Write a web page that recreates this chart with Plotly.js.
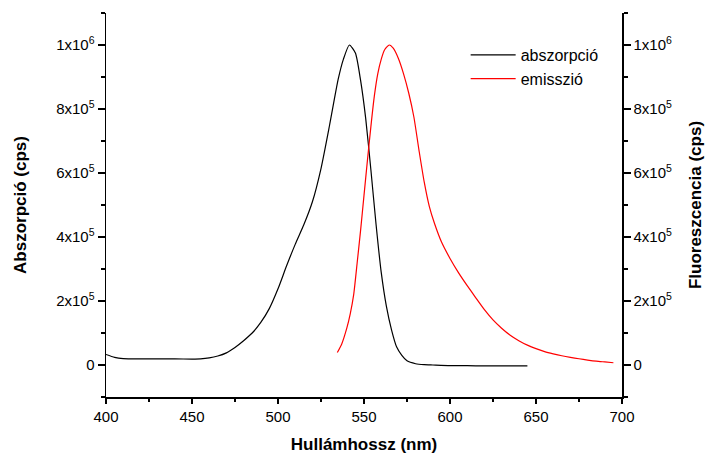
<!DOCTYPE html>
<html>
<head>
<meta charset="utf-8">
<script src="https://cdn.plot.ly/plotly-3.0.1.min.js"></script>
<style>
  html, body { margin: 0; padding: 0; background: #fff; }
  #chart { width: 708px; height: 457px; }
</style>
</head>
<body>
<div id="chart"></div>
<script>
// Absorption spectrum (wavelength in nm, intensity in cps)
const absWavelength = [400, 405, 410, 420, 430, 440, 450, 455, 460, 465, 470, 475, 480, 485, 490, 495,
  500, 505, 510, 515, 520, 525, 530, 535, 538, 541.5, 545, 548, 551, 554, 557, 560, 563, 566, 569,
  572, 575, 580, 585, 590, 600, 610, 620, 630, 645];
const absIntensity = [33000, 24000, 20000, 19000, 19000, 19000, 18500, 19000, 22000, 28000, 38000, 55000,
  76000, 100000, 133000, 177000, 238000, 310000, 377000, 438000, 510000, 614000, 750000, 893000,
  955000, 1000000, 975000, 890000, 770000, 610000, 440000, 290000, 184000, 110000, 56000,
  30000, 13000, 4000, 1000, 0, -2000, -2000, -3000, -3000, -3000];

// Emission spectrum (wavelength in nm, intensity in cps)
const emWavelength = [534.5, 537, 540, 542, 544, 546, 548, 550, 552, 554, 556, 558, 560, 562, 564.7,
  567, 570, 573, 576, 579, 582, 585, 588, 591, 595, 600, 605, 610, 615, 620, 625, 630, 635, 640,
  645, 650, 655, 660, 665, 670, 675, 680, 685, 690, 695];
const emIntensity = [39000, 65000, 115000, 160000, 220000, 318000, 420000, 530000, 640000, 745000,
  840000, 910000, 955000, 985000, 1000000, 990000, 958000, 910000, 850000, 775000, 670000, 572000,
  495000, 442000, 385000, 333000, 288000, 248000, 210000, 173000, 141000, 115000, 93000, 76000,
  62000, 51000, 42000, 35000, 29000, 24000, 19500, 15500, 12000, 9500, 7000];

const seriesNames = ['abszorpció', 'emisszió'];

// Axis tick labels
const yTickVals = [0, 200000, 400000, 600000, 800000, 1000000];
const yTickText = ['0', '2x10<sup>5</sup>', '4x10<sup>5</sup>', '6x10<sup>5</sup>', '8x10<sup>5</sup>', '1x10<sup>6</sup>'];
const yMinorVals = [-100000, 100000, 300000, 500000, 700000, 900000, 1100000];

const FONT = 'Liberation Sans, Arial, sans-serif';

const traces = [
  {
    x: absWavelength, y: absIntensity, name: seriesNames[0],
    type: 'scatter', mode: 'lines',
    line: { color: '#000000', width: 1.2, shape: 'spline', smoothing: 0.6 },
    yaxis: 'y'
  },
  {
    x: emWavelength, y: emIntensity, name: seriesNames[1],
    type: 'scatter', mode: 'lines',
    line: { color: '#ff0000', width: 1.2, shape: 'spline', smoothing: 0.6 },
    yaxis: 'y2'
  }
];

const yCommon = {
  range: [-100000, 1100000],
  tickmode: 'array', tickvals: yTickVals, ticktext: yTickText,
  ticks: 'outside', ticklen: 7, tickwidth: 1.5, tickcolor: '#000',
  minor: { tickmode: 'array', tickvals: yMinorVals, ticks: 'outside', ticklen: 4, tickwidth: 1.5, tickcolor: '#000' },
  showline: true, linecolor: '#000', linewidth: 1.5,
  showgrid: false, zeroline: false,
  tickfont: { family: FONT, size: 15, color: '#000' }
};

const layout = {
  width: 708, height: 457,
  margin: { l: 106, r: 86, t: 13, b: 60 },
  paper_bgcolor: '#fff', plot_bgcolor: '#fff',
  showlegend: true,
  legend: {
    x: 0.697, y: 0.935, xanchor: 'left', yanchor: 'top',
    itemwidth: 45,
    bgcolor: 'rgba(0,0,0,0)', borderwidth: 0,
    font: { family: FONT, size: 16, color: '#000' }
  },
  xaxis: {
    range: [400, 700], dtick: 50, tick0: 400,
    ticks: 'outside', ticklen: 5, tickwidth: 1.5, tickcolor: '#000',
    minor: { dtick: 25, tick0: 400, ticks: 'outside', ticklen: 3, tickwidth: 1.5, tickcolor: '#000' },
    showline: true, linecolor: '#000', linewidth: 1.5,
    showgrid: false, zeroline: false,
    tickfont: { family: FONT, size: 15, color: '#000' },
    title: { text: '<b>Hullámhossz (nm)</b>', font: { family: FONT, size: 17, color: '#000' }, standoff: 14 }
  },
  yaxis: Object.assign({}, yCommon, {
    side: 'left',
    title: { text: '<b>Abszorpció (cps)</b>', font: { family: FONT, size: 17, color: '#000' }, standoff: 25 }
  }),
  yaxis2: Object.assign({}, yCommon, {
    side: 'right', overlaying: 'y',
    title: { text: '<b>Fluoreszcencia (cps)</b>', font: { family: FONT, size: 17, color: '#000' }, standoff: 18 }
  })
};

Plotly.newPlot('chart', traces, layout, { staticPlot: true, displayModeBar: false });
</script>
</body>
</html>
